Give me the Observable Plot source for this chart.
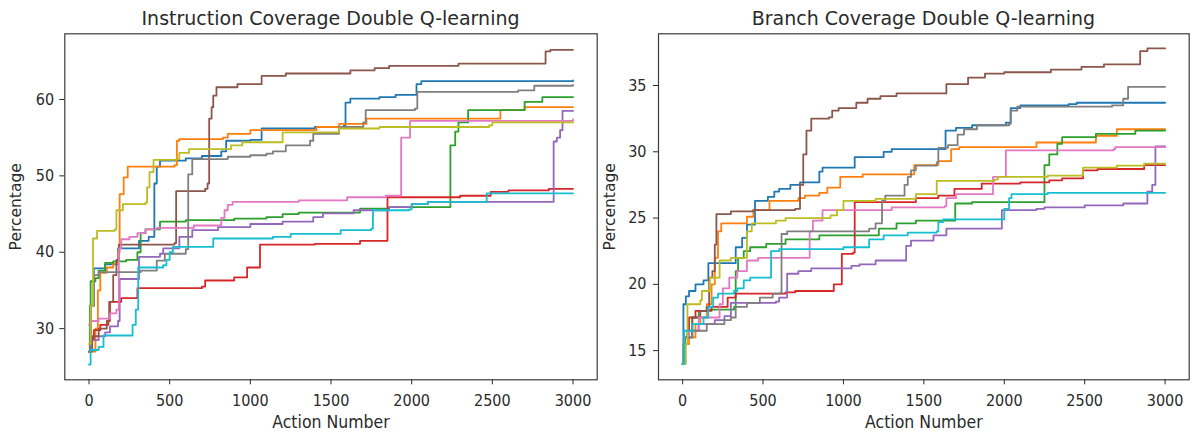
<!DOCTYPE html>
<html>
<head>
<meta charset="utf-8">
<script src="https://cdn.jsdelivr.net/npm/d3@7"></script>
<script src="https://cdn.jsdelivr.net/npm/@observablehq/plot@0.6"></script>
<style>
  html, body { margin: 0; padding: 0; background: #fff; }
  #wrap { position: relative; width: 1192px; height: 434px; overflow: hidden; font-family: "DejaVu Sans", sans-serif; }
  .panel { position: absolute; top: 0; }
  .title { position: absolute; top: 7px; white-space: nowrap; font-size: 19px; color: #2a2a2a; transform: translateX(-50%); }
  .chart { position: absolute; top: 30px; left: 0; }
</style>
</head>
<body>
<div id="wrap"></div>
<script>
// ---------- data ----------
const runNames = ["run0","run1","run2","run3","run4","run5","run6","run7","run8","run9"];
const runColors = ["#1f77b4","#ff7f0e","#2ca02c","#d62728","#9467bd","#8c564b","#e377c2","#7f7f7f","#bcbd22","#17becf"];
const xTicks = [0, 500, 1000, 1500, 2000, 2500, 3000];
const instYTicks = [30, 40, 50, 60];
const branchYTicks = [15, 20, 25, 30, 35];
const titles = ["Instruction Coverage Double Q-learning", "Branch Coverage Double Q-learning"];
const xLabel = "Action Number";
const yLabel = "Percentage";

// Instruction coverage, one list of [action, percentage] steps per run
const instRun0 = [[0,27],[10,33],[30,37.9],[100,38.4],[180,40.5],[310,41.5],[370,42],[405,49],[420,51.2],[440,52],[600,52.3],[700,52.6],[820,53.2],[850,54.6],[1000,54.7],[1070,56.2],[1400,56.4],[1580,56.6],[1590,59.6],[1620,60.1],[1800,60.3],[1900,60.6],[2030,62],[2060,62.4],[3000,62.5]];
const instRun1 = [[0,27],[40,30],[55,35],[70,37.3],[110,38],[150,38.5],[180,40],[190,47.6],[215,49.8],[240,51.2],[530,51.4],[545,54.6],[560,54.8],[830,55],[860,55.5],[1000,56],[1410,56.4],[1550,56.8],[1720,57.5],[2540,57.5],[2550,58.6],[2700,59],[3000,59]];
const instRun2 = [[0,27],[5,33],[10,36.2],[40,36.6],[60,37.6],[100,38.6],[150,38.8],[230,39],[300,40],[320,42.5],[350,43],[440,44],[600,44.2],[900,44.4],[1100,44.6],[1200,45],[1300,45.2],[1680,45.7],[1860,45.9],[2230,45.9],[2240,54],[2270,55.8],[2290,57],[2350,58.6],[2700,59.7],[2810,60.3],[3000,60.3]];
const instRun3 = [[0,27],[10,28.5],[30,29.8],[70,30.5],[120,31],[130,33.5],[200,34],[300,35.3],[700,35.5],[720,36.3],[900,36.7],[980,38],[1060,41],[1400,41.1],[1680,41.5],[1850,47.2],[2300,47.4],[2490,47.9],[2600,48.1],[2850,48.3],[3000,48.3]];
const instRun4 = [[0,27],[10,28.5],[60,29],[100,29.5],[130,30.3],[180,31],[190,36.5],[300,36.5],[310,39.4],[440,39.8],[460,40.5],[560,42],[640,42.9],[800,43.3],[1000,43.7],[1200,44],[1390,44.6],[1450,45.1],[1640,45.5],[1860,45.9],[2000,46.3],[2100,46.6],[2870,46.6],[2880,54.5],[2900,55],[2920,56],[2935,58.5],[3000,58.5]];
const instRun5 = [[0,27],[20,29],[60,30],[110,31],[125,33.5],[150,37],[170,39],[185,41],[530,41.2],[540,48],[720,48.3],[735,49],[745,57.5],[760,59],[770,60.5],[790,61.6],[920,62],[1070,63.1],[1220,63.4],[1620,63.8],[1770,64.1],[1860,64.4],[2290,64.7],[2830,66.3],[2860,66.5],[3000,66.5]];
const instRun6 = [[0,30.5],[10,31],[60,31.3],[130,32],[170,32.5],[185,40.5],[200,41.7],[250,42],[300,42.5],[350,43],[420,43.2],[650,43.5],[820,44.5],[840,45.5],[860,46.2],[890,46.6],[1300,46.8],[1600,47.2],[1840,47.4],[1935,55],[1990,57.2],[3000,57.4]];
const instRun7 = [[0,27],[10,33],[30,37],[60,37.4],[320,37.6],[420,38.9],[470,39.8],[600,40.4],[615,50.2],[640,52.2],[860,52.5],[1000,52.7],[1100,52.9],[1140,53.2],[1220,54],[1370,54.6],[1390,55.5],[1550,56.4],[1700,57],[1715,58.6],[2020,58.8],[2035,61],[2660,61.2],[2760,61.8],[3000,61.9]];
const instRun8 = [[0,28],[10,33],[25,41.8],[50,42.8],[160,43],[170,45.5],[210,46.3],[350,46.5],[360,48.5],[375,50.5],[400,52.1],[540,52.2],[560,53],[620,53.5],[880,54],[950,54.4],[1200,55.7],[1550,56.2],[1800,56.4],[2480,56.6],[2500,57],[3000,57]];
const instRun9 = [[0,25.3],[10,27.2],[60,27.6],[90,29.1],[250,29.1],[270,30.5],[290,32.5],[305,38],[460,38.3],[480,39],[500,40],[520,40.7],[770,41.8],[1140,42],[1250,42.4],[1560,42.9],[1750,43.1],[1760,45.5],[1985,45.6],[2000,46.3],[2100,46.6],[2460,46.6],[2465,47.7],[3000,47.7]];

// Branch coverage
const branchRun0 = [[0,14],[5,18.5],[20,19.1],[40,19.5],[80,20],[130,20.3],[160,21.6],[300,21.6],[330,22.8],[370,23.5],[400,24.5],[450,26.3],[530,26.6],[570,27],[600,27.2],[670,27.5],[730,27.7],[850,28.5],[870,28.8],[1070,29.6],[1250,30],[1300,30.2],[1625,30.2],[1635,31.6],[1700,31.8],[1800,32],[2010,32.2],[2040,33.3],[2100,33.5],[2400,33.6],[2450,33.7],[3000,33.7]];
const branchRun1 = [[0,14],[10,15.5],[40,16],[80,17],[110,17.5],[150,18.5],[180,20],[200,22],[220,24],[240,24.6],[360,24.6],[400,25.1],[440,25.6],[540,26.3],[720,26.5],[760,26.7],[850,26.9],[900,27.3],[980,28.1],[1120,28.3],[1440,29],[1590,29.3],[1670,30.2],[1720,30.35],[2200,30.7],[2570,31.2],[2700,31.7],[3000,31.7]];
const branchRun2 = [[0,14],[5,15.5],[15,16],[60,17.5],[100,18],[150,18.1],[320,18.3],[330,21],[345,22],[380,22.5],[420,22.8],[520,23.05],[640,23.4],[850,23.7],[1220,24.2],[1330,24.6],[1450,24.8],[1690,24.8],[1695,26.1],[1800,26.2],[2240,26.2],[2250,29],[2280,29.8],[2330,30.6],[2360,31.1],[2570,31.35],[2815,31.6],[3000,31.6]];
const branchRun3 = [[0,14],[10,16],[40,17.5],[80,18],[180,18.3],[280,19],[330,19.3],[640,19.4],[700,19.5],[900,19.5],[940,20],[990,22.3],[1060,22.4],[1070,26.2],[1450,26.5],[1590,26.7],[1690,27.2],[1860,27.6],[2100,27.7],[2280,27.85],[2360,28],[2490,28.6],[2580,28.7],[2870,29],[3000,29]];
const branchRun4 = [[0,14],[10,16],[60,16.5],[100,17],[200,17.3],[260,17.6],[300,18.6],[580,18.7],[600,19],[650,20.8],[720,21],[800,21.2],[1050,21.4],[1100,21.5],[1200,21.8],[1390,22.9],[1420,23.3],[1560,23.7],[1640,24.2],[1980,24.2],[1985,25.6],[2200,25.7],[2250,25.8],[2500,25.95],[2740,26.1],[2880,26.1],[2890,27],[2920,27.5],[2940,30.4],[3000,30.4]];
const branchRun5 = [[0,14],[10,16],[30,16.5],[60,17.5],[110,18],[150,18.3],[165,20.5],[185,21],[200,23],[210,25.3],[300,25.5],[440,25.6],[700,25.7],[730,27.5],[750,29.8],[770,31.6],[800,32.5],[910,32.6],[930,33.1],[970,33.3],[1080,33.7],[1150,34],[1230,34.2],[1330,34.4],[1640,35.1],[1775,35.6],[1880,35.9],[2000,36],[2290,36.2],[2480,36.4],[2620,36.6],[2835,36.6],[2845,37.6],[2890,37.8],[3000,37.8]];
const branchRun6 = [[0,14],[10,16],[40,16.5],[100,17.5],[230,18.5],[250,19.7],[290,20.5],[340,21],[400,21.8],[470,22],[780,22],[790,24],[810,24.8],[870,25.6],[1290,25.6],[1300,25.8],[1630,25.9],[1640,26.5],[1700,26.8],[1920,26.8],[1930,28.1],[2000,28.1],[2010,30.1],[2680,30.2],[2690,30.35],[3000,30.4]];
const branchRun7 = [[0,14],[10,16],[60,16.5],[150,17],[260,17.3],[300,17.5],[330,18.3],[400,18.6],[480,19],[560,19.3],[610,19.4],[615,23.8],[650,24],[1160,24.2],[1200,24.6],[1240,26.3],[1260,26.7],[1380,27.5],[1400,28.1],[1420,28.6],[1450,28.95],[1580,29.2],[1590,30.3],[1650,30.5],[1710,31.3],[1750,31.7],[1830,32],[2030,32.1],[2040,33.1],[2080,33.4],[2670,33.5],[2740,34],[2770,34.9],[3000,34.9]];
const branchRun8 = [[0,14],[20,15.5],[30,18.5],[110,18.8],[120,19.5],[170,20.5],[230,21.8],[300,22],[400,24],[430,24.6],[580,24.8],[640,25],[920,25.2],[960,25.6],[1000,26.3],[1200,26.45],[1450,26.8],[1575,26.8],[1580,27.8],[1940,27.9],[1960,28.1],[2270,28.2],[2490,28.8],[2700,28.95],[2870,29.1],[3000,29.1]];
const branchRun9 = [[0,14],[10,16.5],[60,17],[130,17.5],[160,18.3],[190,19],[220,19.3],[320,19.5],[340,19.7],[380,20.3],[420,20.5],[530,20.5],[550,22.5],[600,22.65],[1000,22.8],[1160,23.4],[1250,23.7],[1400,23.9],[1580,24],[1590,24.7],[1620,24.9],[1980,24.9],[2000,25.7],[2030,26.5],[2045,26.8],[2270,26.9],[3000,26.9]];

const instRuns = [instRun0, instRun1, instRun2, instRun3, instRun4, instRun5, instRun6, instRun7, instRun8, instRun9];
const branchRuns = [branchRun0, branchRun1, branchRun2, branchRun3, branchRun4, branchRun5, branchRun6, branchRun7, branchRun8, branchRun9];

// ---------- drawing ----------
const tickFont = "'DejaVu Sans Condensed', 'DejaVu Sans', sans-serif";
const textColor = "#2a2a2a";

function toRows(runs) {
  const rows = [];
  runs.forEach((pts, i) => pts.forEach(([x, y]) => rows.push({run: runNames[i], x, y})));
  return rows;
}

function panel(s) {
  return Plot.plot({
    width: s.w,
    height: 404,
    marginLeft: s.mL,
    marginRight: s.mR,
    marginTop: 3.3,
    marginBottom: 54.7,
    style: {fontFamily: "DejaVu Sans, sans-serif", fontSize: "16px", color: textColor, background: "transparent", overflow: "visible"},
    x: {domain: [-150, 3150]},
    y: {domain: s.dom},
    color: {type: "ordinal", domain: runNames, range: runColors},
    marks: [
      Plot.line(toRows(s.runs), {x: "x", y: "y", z: "run", stroke: "run", curve: "step-after", strokeWidth: 1.8}),
      Plot.frame({stroke: "#3a3a3a", strokeWidth: 1.2}),
      Plot.axisX({ticks: xTicks, tickFormat: "d", tickSize: 5, tickPadding: 10, label: null, fontFamily: tickFont, fontSize: 16}),
      Plot.axisY({ticks: s.ticks, tickFormat: "d", tickSize: 5, tickPadding: s.yPad, label: null, fontFamily: tickFont, fontSize: 16}),
      Plot.text([xLabel], {text: d => d, frameAnchor: "bottom", textAnchor: "middle", lineAnchor: "bottom", dy: 47.7, fontFamily: tickFont, fontSize: 17.5, fill: textColor}),
      Plot.text([yLabel], {text: d => d, frameAnchor: "left", textAnchor: "middle", lineAnchor: "top", rotate: -90, dx: s.yLabDx, fontFamily: "DejaVu Sans, sans-serif", fontSize: 15.5, fill: textColor})
    ]
  });
}

const wrap = document.getElementById("wrap");
const specs = [
  {left: 0, w: 600, mL: 64.3, mR: 3.3, runs: instRuns, dom: [23.3, 68.6], ticks: instYTicks, yPad: 5.7, yLabDx: -55.3, title: titles[0], tx: 330.5},
  {left: 596, w: 596, mL: 62, mR: 3.3, runs: branchRuns, dom: [12.8, 38.9], ticks: branchYTicks, yPad: 7, yLabDx: -54.6, title: titles[1], tx: 327.4}
];
specs.forEach(s => {
  const p = document.createElement("div");
  p.className = "panel";
  p.style.left = s.left + "px";
  p.style.width = s.w + "px";
  p.style.height = "434px";
  const t = document.createElement("div");
  t.className = "title";
  t.style.left = s.tx + "px";
  t.textContent = s.title;
  const c = document.createElement("div");
  c.className = "chart";
  c.appendChild(panel(s));
  p.appendChild(t);
  p.appendChild(c);
  wrap.appendChild(p);
});
</script>
</body>
</html>
